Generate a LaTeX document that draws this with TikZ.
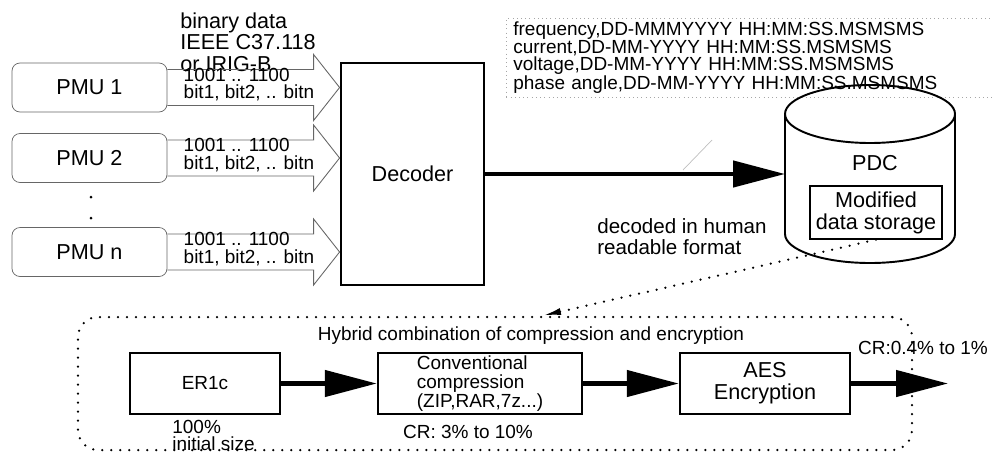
\documentclass[tikz,border=0pt]{standalone}
\usepackage{fontspec}
\setmainfont{Liberation Sans}
\usetikzlibrary{arrows.meta,calc}

\newcommand{\bigfont}{\fontsize{12.3}{12.5}\selectfont}
\newcommand{\smallfont}{\fontsize{10.8}{9.8}\selectfont}

\begin{document}
\begin{tikzpicture}[x=0.2mm, y=-0.2mm,
  pmu/.style={draw=gray!80!black, rounded corners=1.6mm, minimum width=31mm, minimum height=9.8mm, font=\bigfont},
  pmuarrow/.style={draw=gray!80!black, line width=0.5pt},
  bigbox/.style={draw, line width=1.6pt, minimum width=28.6mm, minimum height=44.4mm, font=\bigfont},
  stepbox/.style={draw, line width=1.4pt, minimum height=12.2mm, inner sep=0pt},
  fat/.style={line width=0.9mm, -{Triangle[length=10.4mm, width=5.2mm]}},
  dots/.style={line width=0.5mm, line cap=round, dash pattern=on 0pt off 1.8mm},
  txt/.style={inner sep=0pt, font=\smallfont, align=left}]
  \useasboundingbox (0,0) rectangle (992,452);

  % PMUs and decoder
  \node[pmu] (p1) at (89.5,87.5) {PMU 1};
  \node[pmu] (p2) at (89.5,158) {PMU 2};
  \node[pmu] (pn) at (89.5,252) {PMU n};
  \fill (91,197) circle (0.3mm);
  \fill (91,218) circle (0.3mm);
  \node[bigbox] (dec) at (412.5,174) {Decoder};
  \node[txt, font=\bigfont, anchor=north west] (bin) at (180,12) {binary data\\IEEE C37.118\\or IRIG-B};
  \foreach \p in {p1,p2,pn} {
    \draw[pmuarrow] ($(\p.east)+(0,-18)$) -- ($(dec.west |- \p.east)+(-26,-18)$)
      -- ($(dec.west |- \p.east)+(-26,-33)$) -- (dec.west |- \p.east)
      -- ($(dec.west |- \p.east)+(-26,33)$) -- ($(dec.west |- \p.east)+(-26,18)$)
      -- ($(\p.east)+(0,18)$);
    \node[txt, anchor=west] (t\p) at ($(\p.east)+(16,-3)$) {1001 .. 1100\\bit1, bit2, .. bitn};
  }

  % PDC store
  \node[draw=gray!70, dotted, anchor=north west, inner xsep=1.4mm, inner ysep=0.6mm,
    minimum height=15.8mm, text width=95mm, align=left, font=\smallfont] (fmt) at (506,18)
    {frequency,DD-MMMYYYY HH:MM:SS.MSMSMS\\current,DD-MM-YYYY HH:MM:SS.MSMSMS\\voltage,DD-MM-YYYY HH:MM:SS.MSMSMS\\phase angle,DD-MM-YYYY HH:MM:SS.MSMSMS};
  \node[minimum width=34mm, minimum height=35.6mm, outer sep=0pt] (pdc) at (870,174) {};
  \draw[line width=1.1pt] ([yshift=-5.8mm]pdc.north) ellipse [x radius=17mm, y radius=5.8mm];
  \draw[line width=1.1pt] ([yshift=-5.8mm]pdc.north west) -- ([yshift=5.8mm]pdc.south west)
    arc[start angle=180, end angle=360, x radius=17mm, y radius=5.8mm] -- ([yshift=-5.8mm]pdc.north east);
  \node[font=\bigfont] (pdcl) at (875,163) {PDC};
  \node[draw, line width=0.8pt, minimum width=26.4mm, minimum height=10.6mm, inner sep=0pt,
    align=center, font=\bigfont] (mds) at (876,212.5) {Modified\\data storage};
  \draw[fat] (dec.east) -- (pdc.west);
  \draw[gray!50, line width=0.4pt] (683,170) -- (712,140);
  \node[txt, font=\fontsize{11.7}{12}\selectfont, anchor=west] (hr) at (597,237) {decoded in human\\readable format};

  % hybrid compression and encryption
  \node[draw, dots, rounded corners=4mm, minimum width=166.8mm, minimum height=26.6mm] (hyb) at (495,383.5) {};
  \draw[dots, -{Latex[length=3.8mm, width=1.4mm]}] (mds.south) -- ([xshift=9.4mm]hyb.north);
  \node[font=\smallfont, inner sep=0pt] (hybl) at (531,336) {Hybrid combination of compression and encryption};
  \node[stepbox, minimum width=30mm, font=\smallfont] (er) at (205,383.5) {ER1c};
  \node[stepbox, minimum width=40.8mm, align=left, font=\fontsize{10.8}{11}\selectfont] (conv) at (480,383.5) {Conventional\\compression\\(ZIP,RAR,7z...)};
  \node[stepbox, minimum width=34mm, align=center, font=\bigfont] (aes) at (765,383.5) {AES\\Encryption};
  \coordinate (out) at (948,383.5);
  \draw[fat] (er) -- (conv);
  \draw[fat] (conv) -- (aes);
  \draw[fat] (aes) -- (out);
  \node[txt, anchor=north west] (ini) at (172,420) {100\%\\initial size};
  \node[font=\smallfont, inner sep=0pt] (cr1) at (468,432) {CR: 3\% to 10\%};
  \node[font=\smallfont, inner sep=0pt] (cr2) at (923,348) {CR:0.4\% to 1\%};
\end{tikzpicture}
\end{document}
